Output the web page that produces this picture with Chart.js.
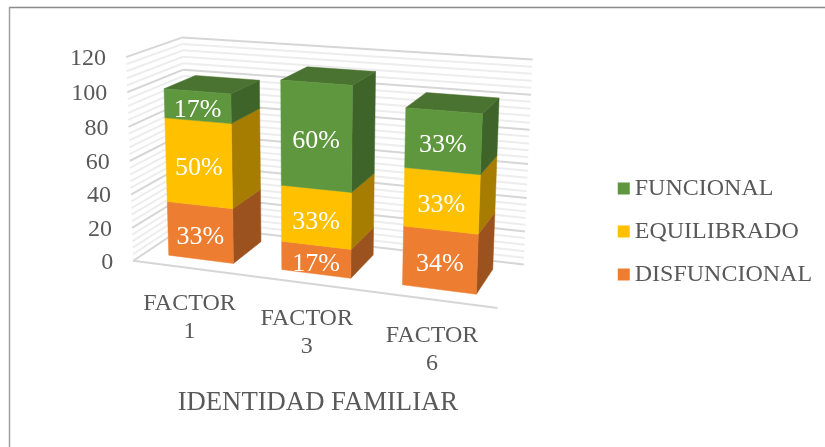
<!DOCTYPE html>
<html><head><meta charset="utf-8">
<style>html,body{margin:0;padding:0;background:#fff}canvas{display:block}</style>
<script src="https://cdn.jsdelivr.net/npm/chart.js@4/dist/chart.umd.min.js"></script>
</head><body><canvas id="c" width="825" height="447"></canvas>
<script>
const categories = [['FACTOR','1'],['FACTOR','3'],['FACTOR','6']];
const disfuncional = [33,17,34];
const equilibrado = [50,33,33];
const funcional = [17,60,33];
const yMax = 120, yStep = 20, yMinorStep = 4;
const axisTitle = 'IDENTIDAD FAMILIAR';
const FONT = '"Liberation Serif"', TXT = '#595959';

// camera: [X,Y,Z] box corners (0..1) -> picture position
const camera = [
 [0,0,0,135,260],[1,0,0,499,308],[0,0,1,185,226],[1,0,1,523,264],
 [0,1,1,185,39],[1,1,1,533,57],[0,1,0,124,55],[1,1,0,505,87]
];
const barDepth = [0.22,0.8];
const faces = {
 f:{front:'#5F973E',side:'#3F6429',top:'#4A7230'},
 e:{front:'#FFC000',side:'#A67D00',top:'#BF9000'},
 d:{front:'#ED7D31',side:'#9C521F',top:'#B25E25'}
};

function solve(A,b){const n=b.length;for(let i=0;i<n;i++){let m=i;for(let r=i+1;r<n;r++)if(Math.abs(A[r][i])>Math.abs(A[m][i]))m=r;[A[i],A[m]]=[A[m],A[i]];[b[i],b[m]]=[b[m],b[i]];for(let r=i+1;r<n;r++){const k=A[r][i]/A[i][i];for(let c=i;c<n;c++)A[r][c]-=k*A[i][c];b[r]-=k*b[i];}}const x=Array(n).fill(0);for(let i=n-1;i>=0;i--){let s=b[i];for(let c=i+1;c<n;c++)s-=A[i][c]*x[c];x[i]=s/A[i][i];}return x;}
function fit(){const rows=[],rhs=[];camera.forEach(([X,Y,Z,x,y])=>{rows.push([X,Y,Z,1,0,0,0,0,-x*X,-x*Y,-x*Z]);rhs.push(x);rows.push([0,0,0,0,X,Y,Z,1,-y*X,-y*Y,-y*Z]);rhs.push(y);});const n=11,A=[],b=[];for(let i=0;i<n;i++){A.push(Array(n).fill(0));b.push(0);for(let j=0;j<n;j++)rows.forEach(r=>A[i][j]+=r[i]*r[j]);rows.forEach((r,k)=>b[i]+=r[i]*rhs[k]);}return solve(A,b);}
const H=fit();
function P(X,Y,Z){const w=H[8]*X+H[9]*Y+H[10]*Z+1;return [(H[0]*X+H[1]*Y+H[2]*Z+H[3])/w,(H[4]*X+H[5]*Y+H[6]*Z+H[7])/w];}
function poly(ctx,pts,col){ctx.beginPath();pts.forEach((p,i)=>i?ctx.lineTo(p[0],p[1]):ctx.moveTo(p[0],p[1]));ctx.closePath();ctx.fillStyle=col;ctx.fill();ctx.strokeStyle=col;ctx.lineWidth=.5;ctx.stroke();}
function seg(ctx,a,b,col,w){ctx.beginPath();ctx.moveTo(a[0],a[1]);ctx.lineTo(b[0],b[1]);ctx.strokeStyle=col;ctx.lineWidth=w;ctx.stroke();}

const box3d={id:'box3d',
 afterLayout(c){c.legend.right=c.width;c.legend.width=c.width-c.legend.left;},
 beforeDatasetsDraw(c){const ctx=c.ctx,y=c.scales.y;ctx.save();
  // frame
  seg(ctx,[9,7.5],[825,7.5],'#8A8A8A',1.5);seg(ctx,[9.5,7],[9.5,447],'#A0A0A0',1.5);
  for(let v=0;v<=yMax;v+=yMinorStep){const major=v%yStep===0,Y=(v-y.min)/(y.max-y.min);if(major)continue;
   const col='#EDEDED';seg(ctx,P(0,Y,0),P(0,Y,1),col,2);seg(ctx,P(0,Y,1),P(1,Y,1),col,2);}
  y.ticks.forEach(t=>{const Y=(t.value-y.min)/(y.max-y.min);const col='#D6D6D6';seg(ctx,P(0,Y,0),P(0,Y,1),col,2);seg(ctx,P(0,Y,1),P(1,Y,1),col,2);});
  seg(ctx,P(0,0,0),P(1,0,0),'#D6D6D6',2);
  ctx.restore();},
 beforeDatasetDraw(){return false;},
 afterDatasetsDraw(c){const ctx=c.ctx,ca=c.chartArea;ctx.save();
  const nx=x=>(x-ca.left)/(ca.right-ca.left),ny=y=>(ca.bottom-y)/(ca.bottom-ca.top);
  const [z0,z1]=barDepth,lastDs=c.data.datasets.length-1;
  categories.forEach((_,i)=>{c.data.datasets.forEach((ds,d)=>{const el=c.getDatasetMeta(d).data[i],cols=ds.faces;
    const x0=nx(el.x-el.width/2),x1=nx(el.x+el.width/2),y0=ny(el.base),y1=ny(el.y);
    poly(ctx,[P(x1,y0,z0),P(x1,y0,z1),P(x1,y1,z1),P(x1,y1,z0)],cols.side);
    if(d===lastDs)poly(ctx,[P(x0,y1,z0),P(x1,y1,z0),P(x1,y1,z1),P(x0,y1,z1)],cols.top);
    poly(ctx,[P(x0,y0,z0),P(x1,y0,z0),P(x1,y1,z0),P(x0,y1,z0)],cols.front);
  });
  c.data.datasets.forEach((ds,d)=>{const el=c.getDatasetMeta(d).data[i];
    const p=P((nx(el.x)),(ny(el.base)+ny(el.y))/2,z0);
    ctx.fillStyle='#fff';ctx.font='26px '+FONT;ctx.textAlign='center';ctx.textBaseline='middle';
    ctx.fillText(ds.data[i]+'%',p[0],p[1]+4.5);});
  });
  // axis text follows the skewed box
  ctx.fillStyle=TXT;ctx.font='24px '+FONT;ctx.textBaseline='middle';ctx.textAlign='right';
  const y=c.scales.y,x=c.scales.x;
  y.ticks.forEach(t=>{const p=P(0,(t.value-y.min)/(y.max-y.min),0);ctx.fillText(String(t.value),p[0]-20,p[1]+1.5);});
  ctx.textAlign='center';
  categories.forEach((lines,i)=>{const p=P(nx(x.getPixelForValue(i)),0,0);lines.forEach((s,k)=>ctx.fillText(s,p[0]+0.5,p[1]+36+k*28));});
  // legend squares
  c.legend.legendItems.forEach((it,i)=>{const h=c.legend.legendHitBoxes[i];ctx.fillStyle=it.fillStyle;ctx.fillRect(h.left-5,h.top+6,12,12);});
  ctx.restore();}
};

new Chart(document.getElementById('c'),{type:'bar',
 data:{labels:categories,datasets:[
  {label:'DISFUNCIONAL',data:disfuncional,backgroundColor:faces.d.front,faces:faces.d},
  {label:'EQUILIBRADO',data:equilibrado,backgroundColor:faces.e.front,faces:faces.e},
  {label:'FUNCIONAL',data:funcional,backgroundColor:faces.f.front,faces:faces.f}]},
 options:{responsive:false,animation:false,
  layout:{padding:{top:16,left:24,right:28,bottom:0}},
  datasets:{bar:{barPercentage:0.58,categoryPercentage:1}},
  plugins:{tooltip:{enabled:false},
   legend:{position:'right',reverse:true,labels:{boxWidth:0,boxHeight:0,padding:19,color:TXT,font:{family:FONT,size:24}}}},
  scales:{
   x:{stacked:true,grid:{display:false},border:{display:false},ticks:{display:false},
      title:{display:true,text:axisTitle,color:TXT,font:{family:FONT,size:26.7},padding:{top:0,bottom:28}}},
   y:{stacked:true,min:0,max:yMax,grid:{display:false},border:{display:false},ticks:{display:false,stepSize:yStep}}
  }},
 plugins:[box3d]});
</script></body></html>
